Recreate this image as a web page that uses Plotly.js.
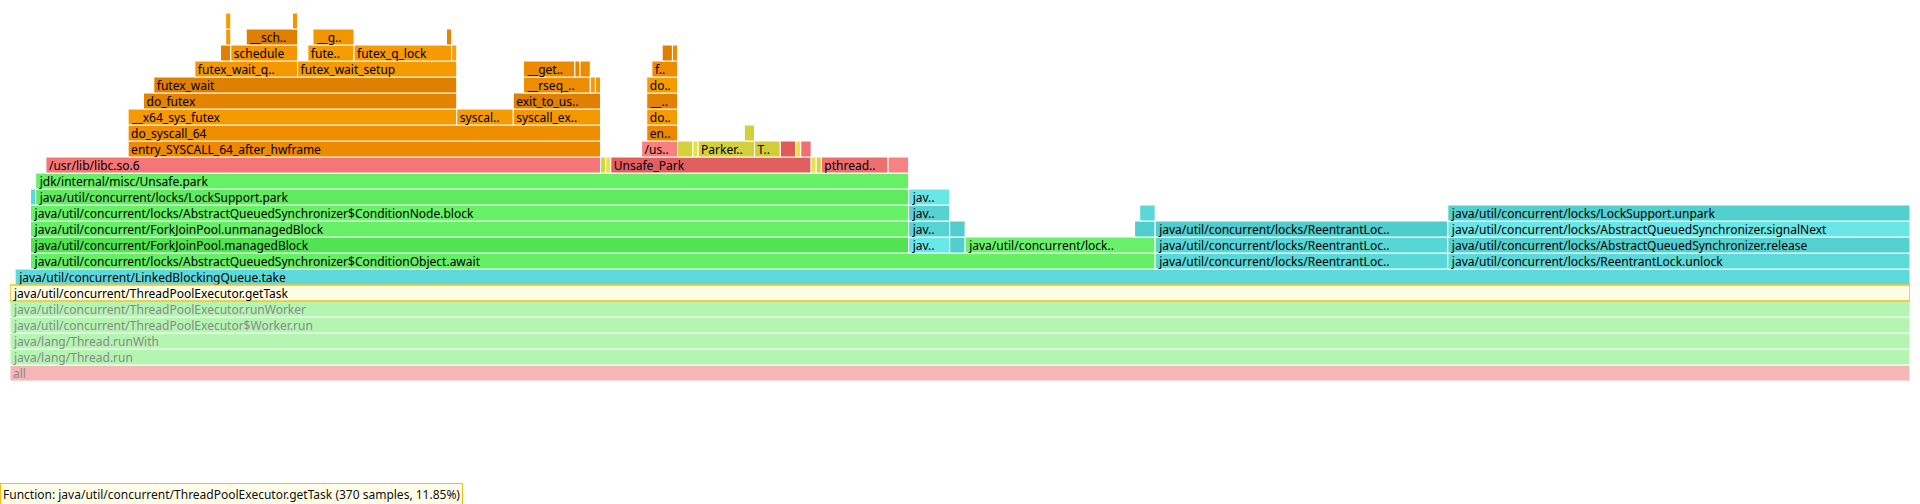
<!DOCTYPE html>
<html><head><meta charset="utf-8">
<script src="https://cdn.plot.ly/plotly-3.0.1.min.js"></script>
<style>html,body{margin:0;padding:0;background:#fff;}#chart{width:1920px;height:504px;}</style>
</head><body><div id="chart"></div>
<script>
// Flame graph frames (zoomed on ThreadPoolExecutor.getTask); starts and widths are in samples
const frameLabels = [
  "all",
  "java/lang/Thread.run",
  "java/lang/Thread.runWith",
  "java/util/concurrent/ThreadPoolExecutor$Worker.run",
  "java/util/concurrent/ThreadPoolExecutor.runWorker",
  "java/util/concurrent/ThreadPoolExecutor.getTask",
  "java/util/concurrent/LinkedBlockingQueue.take",
  "java/util/concurrent/locks/AbstractQueuedSynchronizer$ConditionObject.await",
  "java/util/concurrent/locks/ReentrantLoc..",
  "java/util/concurrent/locks/ReentrantLock.unlock",
  "java/util/concurrent/ForkJoinPool.managedBlock",
  "jav..", "",
  "java/util/concurrent/lock..",
  "java/util/concurrent/locks/ReentrantLoc..",
  "java/util/concurrent/locks/AbstractQueuedSynchronizer.release",
  "java/util/concurrent/ForkJoinPool.unmanagedBlock",
  "jav..", "", "",
  "java/util/concurrent/locks/ReentrantLoc..",
  "java/util/concurrent/locks/AbstractQueuedSynchronizer.signalNext",
  "java/util/concurrent/locks/AbstractQueuedSynchronizer$ConditionNode.block",
  "jav..", "",
  "java/util/concurrent/locks/LockSupport.unpark",
  "", "java/util/concurrent/locks/LockSupport.park", "jav..",
  "jdk/internal/misc/Unsafe.park",
  "/usr/lib/libc.so.6", "", "", "Unsafe_Park", "", "", "pthread..", "",
  "entry_SYSCALL_64_after_hwframe", "/us..", "", "", "Parker..", "T..", "", "", "",
  "do_syscall_64", "en..", "",
  "__x64_sys_futex", "syscal..", "syscall_ex..", "do..",
  "do_futex", "exit_to_us..", "__..",
  "futex_wait", "__rseq_..", "", "", "do..",
  "futex_wait_q..", "futex_wait_setup", "__get..", "", "", "f..",
  "", "schedule", "fute..", "futex_q_lock", "", "", "",
  "", "__sch..", "__g..", "",
  "", ""
];
const frameLevels = [
  0, 1, 2, 3, 4, 5, 6,
  7, 7, 7,
  8, 8, 8, 8, 8, 8,
  9, 9, 9, 9, 9, 9,
  10, 10, 10, 10,
  11, 11, 11,
  12,
  13, 13, 13, 13, 13, 13, 13, 13,
  14, 14, 14, 14, 14, 14, 14, 14, 14,
  15, 15, 15,
  16, 16, 16, 16,
  17, 17, 17,
  18, 18, 18, 18, 18,
  19, 19, 19, 19, 19, 19,
  20, 20, 20, 20, 20, 20, 20,
  21, 21, 21, 21,
  22, 22
];
const frameStarts = [
  0, 0, 0, 0, 0, 0, 1,
  4, 223, 280,
  4, 175, 183, 186, 223, 280,
  4, 175, 183, 219, 223, 280,
  4, 175, 220, 280,
  4, 5, 175,
  5,
  7, 115, 116, 117, 156, 157, 158, 171,
  23, 123, 130, 133, 134, 145, 150, 153, 154,
  23, 124, 143,
  23, 87, 98, 124,
  26, 98, 124,
  28, 100, 113, 114, 124,
  36, 56, 100, 110, 111, 125,
  41, 43, 58, 67, 86, 127, 129,
  42, 46, 59, 85,
  42, 55
];
const frameSamples = [
  370, 370, 370, 370, 370, 370, 369,
  219, 57, 90,
  171, 8, 3, 37, 57, 90,
  171, 8, 3, 4, 57, 90,
  171, 8, 3, 90,
  1, 170, 8,
  170,
  108, 1, 1, 39, 1, 1, 13, 4,
  92, 7, 3, 1, 11, 5, 3, 1, 2,
  92, 6, 2,
  64, 11, 17, 6,
  61, 17, 6,
  59, 13, 1, 1, 6,
  20, 31, 10, 1, 2, 5,
  2, 13, 9, 19, 1, 2, 1,
  1, 10, 8, 1,
  1, 1
];
// fill colour of each frame (style)
const frameColors = [
  "#f6b6b6", "#b4f5b1", "#b4f5b1", "#b4f5b1", "#b4f5b1", "#fffde3", "#5cd9da",
  "#66ee66", "#5ad8d8", "#5ed9d9",
  "#52e352", "#6ae7e7", "#52cdcd", "#6af06a", "#58d6d6", "#54d0d0",
  "#67f067", "#56d3d3", "#52cdcd", "#52cdcd", "#50cccc", "#6ae6e6",
  "#66f166", "#57d1d1", "#5ad8d8", "#52cfcf",
  "#5ad8e0", "#5fea5f", "#6ae6e6",
  "#66f066",
  "#f57676", "#d8d43e", "#e6e24a", "#e35f5f", "#e6e247", "#d8d43e", "#ef6e6e", "#f88282",
  "#ee8a00", "#f88080", "#d4d23c", "#e4e046", "#d2d03c", "#d0cc3a", "#e05a5a", "#e6e247", "#f07070",
  "#f18e00", "#ec8800", "#d2d03c",
  "#f59a00", "#f59a00", "#f49800", "#f59c00",
  "#e48300", "#e07f00", "#e38200",
  "#e08000", "#ef8d00", "#f59a10", "#f49600", "#f59c00",
  "#f49700", "#f59a00", "#ee8a00", "#e48400", "#ee8c00", "#ee8c00",
  "#e08000", "#f39600", "#f59c00", "#f59a00", "#f5a010", "#e07e00", "#ee8a00",
  "#f59a00", "#e07e00", "#f29600", "#e48500",
  "#f59a00", "#f39400"
];
const fadedLevelCount = 5;
const focusLabel = "java/util/concurrent/ThreadPoolExecutor.getTask";
const totalSamples = 3122;

const focusIdx = frameLabels.indexOf(focusLabel);
const order = frameLabels.map((_, i) => i).filter(i => i !== focusIdx).concat([focusIdx]);

const trace = {
  type: 'bar',
  orientation: 'h',
  y: order.map(i => frameLevels[i]),
  x: order.map(i => frameSamples[i]),
  base: order.map(i => frameStarts[i]),
  text: order.map(i => frameLabels[i]),
  textposition: 'inside',
  insidetextanchor: 'start',
  textangle: 0,
  constraintext: 'none',
  cliponaxis: false,
  textfont: {
    family: 'Noto Sans, sans-serif',
    size: 12,
    color: order.map(i => frameLevels[i] < fadedLevelCount ? '#8a8a8a' : '#000000')
  },
  marker: {
    color: order.map(i => frameColors[i]),
    line: {
      color: order.map(i => i === focusIdx ? '#f2be1a' : '#ffffff'),
      width: order.map(i => i === focusIdx ? 1.5 : 1)
    }
  },
  hoverinfo: 'none',
  showlegend: false
};

const focusSamples = frameSamples[focusIdx];
const pct = (100 * focusSamples / totalSamples).toFixed(2);

const layout = {
  width: 1920, height: 504,
  margin: {l: 10, r: 10, t: 13, b: 123, pad: 0},
  paper_bgcolor: '#ffffff', plot_bgcolor: '#ffffff',
  barmode: 'overlay', bargap: 0,
  xaxis: {range: [0, 370], showgrid: false, zeroline: false, showticklabels: false, ticks: '', showline: false, fixedrange: true},
  yaxis: {range: [-0.5, 22.5], showgrid: false, zeroline: false, showticklabels: false, ticks: '', showline: false, fixedrange: true},
  font: {family: 'Noto Sans, sans-serif', size: 12, color: '#000'},
  annotations: [{
    xref: 'paper', yref: 'paper',
    x: -10 / 1900, y: -(483 - 381) / 368,
    xanchor: 'left', yanchor: 'top',
    showarrow: false, align: 'left',
    text: 'Function: ' + focusLabel + ' (' + focusSamples + ' samples, ' + pct + '%)',
    font: {family: 'Noto Sans, sans-serif', size: 12, color: '#111'},
    bgcolor: '#fffde8', bordercolor: '#f2be1a', borderwidth: 1, borderpad: 2
  }]
};

Plotly.newPlot('chart', [trace], layout, {displayModeBar: false, staticPlot: true});
</script>
</body></html>
